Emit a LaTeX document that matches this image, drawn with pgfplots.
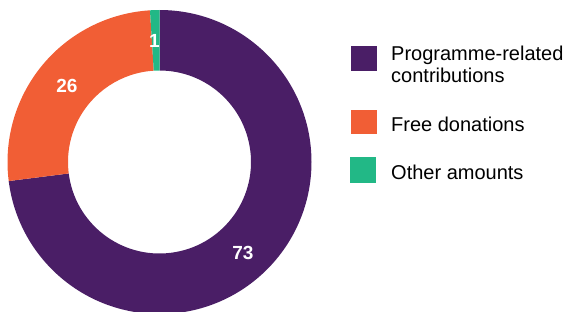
\documentclass[border=0pt]{standalone}
\usepackage{pgfplots}
\pgfplotsset{compat=1.18}
\usepackage{fontspec}
\setmainfont{Liberation Sans}
\definecolor{cPurple}{HTML}{4A1E66}
\definecolor{cOrange}{HTML}{F15E35}
\definecolor{cGreen}{HTML}{22B886}
% data (percent)
\def\vA{73}\def\vB{26}\def\vC{1}
\pgfmathsetmacro\aA{90}
\pgfmathsetmacro\aB{\aA-3.6*\vA}
\pgfmathsetmacro\aC{\aB-3.6*\vB}
\pgfmathsetmacro\aD{\aC-3.6*\vC}
\def\cx{159.5}\def\cy{149}
\def\Ro{152pt}\def\Ri{91.5pt}
\begin{document}
\begin{tikzpicture}
\begin{axis}[
  width=571pt, height=311pt, scale only axis,
  xmin=0, xmax=571, ymin=0, ymax=311,
  hide axis, clip=true,
]
\fill[cPurple] ([shift={(\aA:\Ro)}]axis cs:\cx,\cy) arc[start angle=\aA, end angle=\aB, radius=\Ro]
  -- ([shift={(\aB:\Ri)}]axis cs:\cx,\cy) arc[start angle=\aB, end angle=\aA, radius=\Ri] -- cycle;
\fill[cOrange] ([shift={(\aB:\Ro)}]axis cs:\cx,\cy) arc[start angle=\aB, end angle=\aC, radius=\Ro]
  -- ([shift={(\aC:\Ri)}]axis cs:\cx,\cy) arc[start angle=\aC, end angle=\aB, radius=\Ri] -- cycle;
\fill[cGreen] ([shift={(\aC:\Ro)}]axis cs:\cx,\cy) arc[start angle=\aC, end angle=\aD, radius=\Ro]
  -- ([shift={(\aD:\Ri)}]axis cs:\cx,\cy) arc[start angle=\aD, end angle=\aC, radius=\Ri] -- cycle;
% value labels
\node[text=white, font=\bfseries\fontsize{19}{19}\selectfont] at (axis cs:243,58) {\vA};
\node[text=white, font=\bfseries\fontsize{19}{19}\selectfont] at (axis cs:67,225) {\vB};
\node[text=white, font=\bfseries\fontsize{19}{19}\selectfont] at (axis cs:154.5,270) {\vC};
% legend
\fill[cPurple] (axis cs:351,264.5) rectangle (axis cs:377,240);
\fill[cOrange] (axis cs:351,201) rectangle (axis cs:377,177);
\fill[cGreen] (axis cs:350,153.5) rectangle (axis cs:376,127.5);
\node[anchor=base west, inner sep=0pt, font=\fontsize{20}{22}\selectfont] at (axis cs:391,250) {Programme-related};
\node[anchor=base west, inner sep=0pt, font=\fontsize{20}{22}\selectfont] at (axis cs:391,228) {contributions};
\node[anchor=base west, inner sep=0pt, font=\fontsize{20}{22}\selectfont] at (axis cs:391,179.3) {Free donations};
\node[anchor=base west, inner sep=0pt, font=\fontsize{20}{22}\selectfont] at (axis cs:391,131) {Other amounts};
\end{axis}
\pgfresetboundingbox
\path (current axis.south west) rectangle (current axis.north east);
\end{tikzpicture}
\end{document}
